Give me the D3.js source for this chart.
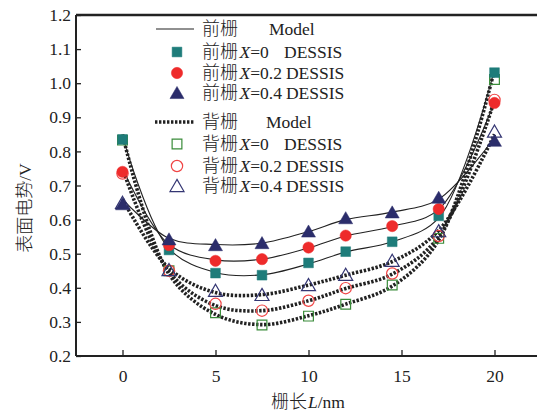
<!DOCTYPE html>
<html><head><meta charset="utf-8">
<script src="https://cdn.jsdelivr.net/npm/d3@7/dist/d3.min.js"></script>
<style>
body{margin:0;background:#fff;}
text{font-family:"Liberation Serif","Times New Roman",serif;}
.cjk{font-family:"Noto Sans CJK SC",sans-serif;font-weight:300;}
</style></head>
<body><svg id="c" width="537" height="413"></svg>
<script>
// Data
const gateL = [0, 2.5, 5, 7.5, 10, 12, 14.5, 17, 20];
// Front gate DESSIS
const frontX0 = [0.835, 0.511, 0.443, 0.437, 0.473, 0.506, 0.535, 0.611, 1.031];
const frontX2 = [0.74, 0.525, 0.479, 0.484, 0.518, 0.553, 0.581, 0.631, 0.942];
const frontX4 = [0.645, 0.542, 0.525, 0.531, 0.565, 0.604, 0.621, 0.664, 0.831];
// Back gate DESSIS
const backX0 = [0.833, 0.45, 0.327, 0.291, 0.317, 0.352, 0.408, 0.545, 1.011];
const backX2 = [0.735, 0.45, 0.353, 0.333, 0.362, 0.399, 0.442, 0.552, 0.951];
const backX4 = [0.649, 0.452, 0.391, 0.379, 0.408, 0.438, 0.479, 0.566, 0.858];
// Models
const frontModel0 = [0.845, 0.515, 0.445, 0.438, 0.47, 0.505, 0.535, 0.605, 1.04];
const frontModel2 = [0.75, 0.527, 0.482, 0.484, 0.517, 0.552, 0.58, 0.63, 0.945];
const frontModel4 = [0.66, 0.545, 0.527, 0.531, 0.565, 0.6, 0.622, 0.66, 0.84];
const backModel0 = [0.85, 0.44, 0.322, 0.292, 0.318, 0.352, 0.405, 0.54, 1.04];
const backModel2 = [0.75, 0.447, 0.348, 0.333, 0.362, 0.398, 0.44, 0.55, 0.95];
const backModel4 = [0.66, 0.457, 0.386, 0.38, 0.408, 0.437, 0.477, 0.568, 0.85];
const xTicks = [0, 5, 10, 15, 20];
const yTicks = [0.2, 0.3, 0.4, 0.5, 0.6, 0.7, 0.8, 0.9, 1.0, 1.1, 1.2];

const svg = d3.select("#c");
const x = d3.scaleLinear().domain([-2.5, 22.5]).range([76, 541]);
const y = d3.scaleLinear().domain([0.2, 1.2]).range([356, 15]);
const FS = 17.5, CFS = 18;

// axes
const gx = svg.append("g").attr("transform", "translate(0,356)")
  .call(d3.axisBottom(x).tickValues(xTicks).tickSize(-6).tickPadding(14).tickFormat(d3.format("d")));
const gy = svg.append("g").attr("transform", "translate(76,0)")
  .call(d3.axisLeft(y).tickValues(yTicks).tickSize(-5).tickPadding(5).tickFormat(d3.format(".1f")));
[gx, gy].forEach(g => {
  g.select(".domain").attr("stroke", "#222").attr("stroke-width", 2);
  g.selectAll(".tick line").attr("stroke", "#222").attr("stroke-width", 1.3);
  g.selectAll(".tick text").attr("font-size", FS).attr("fill", "#222")
   .attr("font-family", "Liberation Serif, serif");
});
gy.select(".domain").attr("d", "M0,15V356");
gx.select(".domain").attr("d", "M76,0H541");
// top border
svg.append("line").attr("x1", 76).attr("x2", 541).attr("y1", 15).attr("y2", 15)
  .attr("stroke", "#222").attr("stroke-width", 2.5);

// run of text pieces laid out as separate text elements
function textRun(parent, x0, yy, pieces, anchor) {
  const g = parent.append("g");
  let cx = x0;
  pieces.forEach(p => {
    if (p.at != null) cx = p.at;
    const t = g.append("text").attr("x", cx + (p.dx || 0)).attr("y", yy)
      .attr("font-size", p.cjk ? CFS : FS).attr("fill", "#222").text(p.s);
    if (p.cjk) t.attr("class", "cjk");
    if (p.it) t.attr("font-style", "italic");
    cx += (p.dx || 0) + t.node().getComputedTextLength();
  });
  if (anchor === "middle") {
    const w = cx - x0;
    g.attr("transform", `translate(${-w / 2},0)`);
  }
  return g;
}

// titles
textRun(svg, 308, 408, [{s: "栅长", cjk: true}, {s: "L", it: true, dx: 1}, {s: "/nm"}], "middle");
const ytg = svg.append("g").attr("transform", "translate(31,208) rotate(-90)");
textRun(ytg, 0, 0, [{s: "表面电势", cjk: true}, {s: "/V"}], "middle");

// model lines
const line = d3.line().x((d, i) => x(gateL[i])).y(d => y(d)).curve(d3.curveCatmullRom.alpha(0.5));
[frontModel0, frontModel2, frontModel4].forEach(arr => {
  svg.append("path").attr("d", line(arr)).attr("fill", "none").attr("stroke", "#222").attr("stroke-width", 1.1);
});
[backModel0, backModel2, backModel4].forEach(arr => {
  svg.append("path").attr("d", line(arr)).attr("fill", "none").attr("stroke", "#222")
    .attr("stroke-width", 3.6).attr("stroke-dasharray", "2.4,1.6");
});

// markers
const teal = "#1e7c7a", red = "#ee2b2b", navy = "#2b2d6b", green = "#3a8c3a", lred = "#f04545", lnavy = "#343673";
function drawMarker(g, type, cx, cy, fill, stroke) {
  let sym;
  if (type === "square") sym = d3.symbol(d3.symbolSquare, 95);
  else if (type === "circle") sym = d3.symbol(d3.symbolCircle, 100);
  else sym = d3.symbol(d3.symbolTriangle, 85);
  const off = type === "triangle" ? 1.5 : 0;
  g.append("path").attr("d", sym()).attr("transform", `translate(${cx},${cy + off})`)
    .attr("fill", fill).attr("stroke", stroke).attr("stroke-width", fill === "none" ? 1.2 : 0.5);
}
const series = [
  {arr: backX0, type: "square", fill: "none", stroke: green},
  {arr: backX2, type: "circle", fill: "none", stroke: lred},
  {arr: backX4, type: "triangle", fill: "none", stroke: lnavy},
  {arr: frontX0, type: "square", fill: teal, stroke: teal},
  {arr: frontX2, type: "circle", fill: red, stroke: red},
  {arr: frontX4, type: "triangle", fill: navy, stroke: navy}
];
const mg = svg.append("g");
series.forEach(s => s.arr.forEach((v, i) => drawMarker(mg, s.type, x(gateL[i]), y(v), s.fill, s.stroke)));

// legend
const lg = svg.append("g");
function legText(yy, gate, xv) {
  const pieces = [{s: gate, cjk: true}];
  if (xv === null) pieces.push({s: "Model", at: gate === "前栅" ? 269 : 266});
  else {
    pieces.push({s: "X", it: true, dx: 1.5});
    pieces.push({s: "=" + xv});
    if (xv === "0") pieces.push({s: "DESSIS", at: 284});
    else pieces.push({s: "DESSIS", dx: 4});
  }
  textRun(lg, 202, yy + 6, pieces);
}
lg.append("line").attr("x1", 156).attr("x2", 194).attr("y1", 29).attr("y2", 29).attr("stroke", "#222").attr("stroke-width", 1.1);
legText(29, "前栅", null);
drawMarker(lg, "square", 177, 52, teal, teal); legText(52, "前栅", "0");
drawMarker(lg, "circle", 177, 73, red, red); legText(73, "前栅", "0.2");
drawMarker(lg, "triangle", 177, 93, navy, navy); legText(93, "前栅", "0.4");
lg.append("line").attr("x1", 155).attr("x2", 195).attr("y1", 122).attr("y2", 122).attr("stroke", "#222")
  .attr("stroke-width", 3.6).attr("stroke-dasharray", "2.4,1.6");
legText(122, "背栅", null);
drawMarker(lg, "square", 177, 144, "none", green); legText(144, "背栅", "0");
drawMarker(lg, "circle", 177, 166, "none", lred); legText(166, "背栅", "0.2");
drawMarker(lg, "triangle", 177, 186, "none", lnavy); legText(186, "背栅", "0.4");
</script></body></html>
